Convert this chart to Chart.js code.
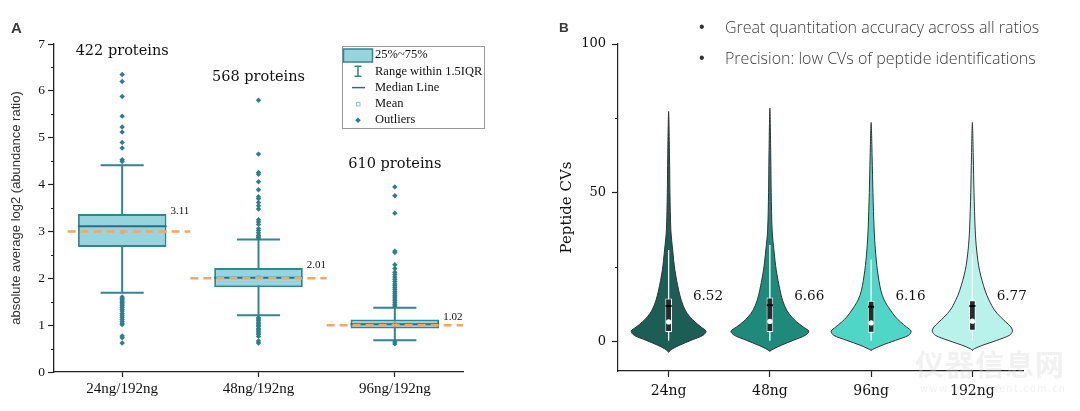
<!DOCTYPE html>
<html><head><meta charset="utf-8">
<script src="https://cdn.jsdelivr.net/npm/chart.js@4.4.1/dist/chart.umd.min.js"></script>
<style>
html,body{margin:0;padding:0;background:#fff;width:1080px;height:411px;overflow:hidden;position:relative;}
.wrap{position:absolute;top:0;width:540px;height:411px;}
#wa{left:0}#wb{left:540px}
.lab{position:absolute;font-family:'Liberation Sans',Arial,sans-serif;font-weight:bold;color:#3a3a3a;}
.bul{position:absolute;font-family:'Open Sans','Liberation Sans',sans-serif;font-size:16px;font-weight:300;color:#3c3c3c;white-space:nowrap;line-height:20px;}
.dot{position:absolute;font-family:'Liberation Sans',sans-serif;font-size:16px;color:#333;line-height:20px;}
.wm{position:absolute;font-family:'Noto Sans CJK SC',sans-serif;font-weight:bold;color:rgba(215,215,215,0.35);white-space:nowrap;}
</style></head><body>
<div class="wrap" id="wa"><canvas id="ca" width="540" height="411"></canvas></div>
<div class="wrap" id="wb"><canvas id="cb" width="540" height="411"></canvas></div>
<div class="lab" style="left:11px;top:20px;font-size:15px;line-height:15px">A</div>
<div class="lab" style="left:559px;top:21px;font-size:13.5px;line-height:13.5px">B</div>
<div class="dot" style="left:699px;top:17px">•</div>
<div class="bul" style="left:725px;top:17px">Great quantitation accuracy across all ratios</div>
<div class="dot" style="left:699px;top:48px">•</div>
<div class="bul" style="left:725px;top:48px">Precision: low CVs of peptide identifications</div>
<div class="wm" style="left:915px;top:342px;font-size:29px;letter-spacing:1px">仪器信息网</div>
<div class="wm" style="left:920px;top:380px;font-size:10px;letter-spacing:1.5px;font-weight:normal">www.instrument.com.cn</div>
<script>
// ---------- Panel A data ----------
const catsA = ['24ng/192ng', '48ng/192ng', '96ng/192ng'];
const countsA = [422, 568, 610];
const q1A = [2.67, 1.81, 0.93];
const q3A = [3.37, 2.22, 1.12];
const medA = [3.11, 2.01, 1.02];
const meanA = [2.99, 2.03, 1.03];
const whiskLoA = [1.69, 1.21, 0.68];
const whiskHiA = [4.41, 2.83, 1.37];
const refA = [3, 2, 1];
const outliers24 = [6.35, 6.20, 5.88, 5.46, 5.23, 5.12, 4.90, 4.78, 4.53, 4.49,
  1.60, 1.57, 1.54, 1.51, 1.48, 1.45, 1.42, 1.38, 1.34, 1.30, 1.25, 1.21, 1.17, 1.12, 1.08, 1.04, 1.01, 0.77, 0.73, 0.62];
const outliers48 = [5.80, 4.65, 4.26, 4.22, 4.06, 3.89, 3.74, 3.70, 3.62, 3.55, 3.48, 3.25, 3.20, 3.15, 3.06, 3.02, 2.97, 2.92, 2.88, 2.86,
  1.16, 1.13, 1.10, 1.06, 1.03, 1.00, 0.97, 0.93, 0.90, 0.87, 0.83, 0.80, 0.76, 0.66, 0.62];
const outliers96 = [3.95, 3.76, 3.39, 2.58, 2.55, 2.29, 2.21, 2.13, 2.08, 2.03, 1.98, 1.93, 1.88, 1.84, 1.80, 1.76, 1.72, 1.68, 1.64, 1.60, 1.56, 1.52, 1.48, 1.44, 1.41,
  0.64, 0.60];
const outliersA = [outliers24, outliers48, outliers96];
const yTicksA = [0, 1, 2, 3, 4, 5, 6, 7];
const yMinorA = [0.5, 1.5, 2.5, 3.5, 4.5, 5.5, 6.5];
const legendA = ['25%~75%', 'Range within 1.5IQR', 'Median Line', 'Mean', 'Outliers'];
const yTitleA = 'absolute average log2 (abundance ratio)';

// ---------- Panel B data ----------
const catsB = ['24ng', '48ng', '96ng', '192ng'];
const medB = [6.52, 6.66, 6.16, 6.77];
const meanB = [11.9, 12.1, 11.6, 11.9];
const boxLoB = [3.1, 3.1, 2.9, 3.5];
const boxHiB = [14.4, 14.7, 13.6, 13.8];
const whiskLoB = [0.2, 0.2, 0.2, 0.2];
const whiskHiB = [30.7, 32.4, 27.5, 29.5];
const violinMinB = [-3.6, -3.3, -3.0, -3.0];
const violinMaxB = [77.3, 78.4, 73.6, 73.6];
const cvLevels = [-2.5, -1.3, 0.3, 2.0, 3.4, 4.8, 6.5, 8.2, 10.5, 13.8, 17.2, 23.9, 30.7, 37.4, 50, 62];
const dens24  = [0.04, 0.11, 0.22, 0.34, 0.37, 0.32, 0.26, 0.21, 0.163, 0.125, 0.099, 0.062, 0.04, 0.022, 0.013, 0.009];
const dens48  = [0.04, 0.115, 0.23, 0.35, 0.385, 0.33, 0.265, 0.215, 0.165, 0.125, 0.1, 0.063, 0.04, 0.022, 0.013, 0.009];
const dens96  = [0.03, 0.11, 0.24, 0.37, 0.395, 0.35, 0.29, 0.24, 0.19, 0.13, 0.095, 0.062, 0.042, 0.03, 0.018, 0.01];
const dens192 = [0.02, 0.104, 0.24, 0.366, 0.396, 0.38, 0.33, 0.277, 0.218, 0.165, 0.124, 0.07, 0.042, 0.028, 0.016, 0.009];
const densB = [dens24, dens48, dens96, dens192];
const yTicksB = [0, 50, 100];
const yMinorB = [25, 75];
const yTitleB = 'Peptide CVs';

// ---------- styles ----------
const BOX_FILL = '#98d4de', BOX_LINE = '#35848f', OUT_COL = '#2b7f8a', MED_COL = '#2c6f79', REF_COL = '#f2a766';
const VIOLIN_COLS = ['#1c5e55', '#1d8a7c', '#50d6c7', '#b9f1eb'];
const BOX_HALF = 0.325, CAP_HALF = 0.158;

Chart.defaults.font.family = "'Liberation Serif', serif";
Chart.defaults.color = '#111';

const gap = x => ({x: x, y: null});
const lineDs = (data, color, width, order, extra) => Object.assign({
  type: 'line', data, borderColor: color, borderWidth: width, pointRadius: 0,
  fill: false, tension: 0, borderCapStyle: 'butt', spanGaps: false, order
}, extra || {});

// ---------- Panel A ----------
const annotA = {
  id: 'annotA',
  afterDatasetsDraw(chart) {
    const {ctx, chartArea} = chart; const x = chart.scales.x, y = chart.scales.y;
    ctx.save();
    ctx.fillStyle = '#111';
    ctx.font = "14.5px 'DejaVu Serif'"; ctx.textAlign = 'center'; ctx.textBaseline = 'middle';
    catsA.forEach((c, i) => {
      const top = Math.max(...outliersA[i]);
      ctx.fillText(countsA[i] + ' proteins', x.getPixelForValue(i), y.getPixelForValue(top) - 23);
    });
    ctx.font = "11px 'Liberation Serif'"; ctx.textAlign = 'left'; ctx.textBaseline = 'bottom';
    catsA.forEach((c, i) => {
      ctx.fillText(medA[i].toFixed(2), x.getPixelForValue(i + BOX_HALF) + 4, y.getPixelForValue(q3A[i]) + 3);
    });
    // legend box
    const L = chartArea.left + 288, T = chartArea.top + 2;
    ctx.strokeStyle = '#9a9a9a'; ctx.lineWidth = 1;
    ctx.strokeRect(L + 0.5, T + 0.5, 142, 82);
    const rowY = k => T + 9 + k * 16.3;
    const cx = L + 16;
    ctx.fillStyle = BOX_FILL; ctx.fillRect(L + 1.5, T + 3, 29, 13);
    ctx.strokeStyle = BOX_LINE; ctx.lineWidth = 1.5; ctx.strokeRect(L + 1.5, T + 3, 29, 13);
    ctx.lineWidth = 1.5; ctx.beginPath();
    ctx.moveTo(cx, rowY(1) - 5); ctx.lineTo(cx, rowY(1) + 5);
    ctx.moveTo(cx - 3.5, rowY(1) - 5); ctx.lineTo(cx + 3.5, rowY(1) - 5);
    ctx.moveTo(cx - 3.5, rowY(1) + 5); ctx.lineTo(cx + 3.5, rowY(1) + 5);
    ctx.stroke();
    ctx.strokeStyle = MED_COL; ctx.beginPath(); ctx.moveTo(cx - 6, rowY(2)); ctx.lineTo(cx + 7, rowY(2)); ctx.stroke();
    ctx.strokeStyle = '#9ab9c0'; ctx.lineWidth = 1; ctx.strokeRect(cx - 1.5, rowY(3) - 1.5, 3.5, 3.5);
    ctx.fillStyle = OUT_COL; ctx.beginPath();
    ctx.moveTo(cx, rowY(4) - 2.8); ctx.lineTo(cx + 2.8, rowY(4)); ctx.lineTo(cx, rowY(4) + 2.8); ctx.lineTo(cx - 2.8, rowY(4)); ctx.closePath(); ctx.fill();
    ctx.fillStyle = '#111'; ctx.font = "12.5px 'Liberation Serif'"; ctx.textAlign = 'left'; ctx.textBaseline = 'middle';
    legendA.forEach((t, k) => ctx.fillText(t, L + 33, rowY(k)));
    ctx.restore();
  },
  afterDraw(chart) {
    const {ctx} = chart; const s = chart.scales.y;
    ctx.save(); ctx.strokeStyle = '#222'; ctx.lineWidth = 1;
    yMinorA.forEach(v => { const py = Math.round(s.getPixelForValue(v)) + 0.5; ctx.beginPath(); ctx.moveTo(s.right - 3, py); ctx.lineTo(s.right, py); ctx.stroke(); });
    ctx.restore();
  }
};

const dsA = [
  lineDs(catsA.flatMap((c, i) => [{x: i, y: whiskLoA[i]}, {x: i, y: whiskHiA[i]}, gap(i)]), BOX_LINE, 2, 10),
  lineDs(catsA.flatMap((c, i) => [{x: i - CAP_HALF, y: whiskHiA[i]}, {x: i + CAP_HALF, y: whiskHiA[i]}, gap(i),
                                 {x: i - CAP_HALF, y: whiskLoA[i]}, {x: i + CAP_HALF, y: whiskLoA[i]}, gap(i)]), BOX_LINE, 2, 10),
  {type: 'bar', data: catsA.map((c, i) => ({x: i, y: [q1A[i], q3A[i]]})), backgroundColor: BOX_FILL, borderColor: BOX_LINE,
   borderWidth: 2, borderSkipped: false, categoryPercentage: 1, barPercentage: 0.65, order: 8},
  lineDs(catsA.flatMap((c, i) => [{x: i - BOX_HALF, y: medA[i]}, {x: i + BOX_HALF, y: medA[i]}, gap(i)]), MED_COL, 2, 6),
  {type: 'scatter', data: catsA.map((c, i) => ({x: i, y: meanA[i]})), pointStyle: 'rect', pointRadius: 2,
   backgroundColor: 'rgba(0,0,0,0)', borderColor: '#8fb5bd', borderWidth: 1, order: 5},
  {type: 'scatter', data: catsA.flatMap((c, i) => outliersA[i].map(v => ({x: i, y: v}))), pointStyle: 'rectRot', pointRadius: 2.7,
   backgroundColor: OUT_COL, borderWidth: 0, order: 4},
  lineDs(catsA.flatMap((c, i) => [{x: i === 0 ? -0.4 : i - 0.5, y: refA[i]}, {x: i + 0.5, y: refA[i]}, gap(i)]), REF_COL, 2.5, 2,
   {borderDash: [8, 5]})
];

new Chart(document.getElementById('ca'), {
  type: 'scatter',
  data: {datasets: dsA},
  plugins: [annotA],
  options: {
    responsive: false, animation: false, events: [],
    layout: {padding: {left: 4, top: 44, right: 77, bottom: 0}},
    plugins: {legend: {display: false}, tooltip: {enabled: false}},
    scales: {
      x: {type: 'linear', min: -0.5, max: 2.5, offset: false,
        afterBuildTicks: s => { s.ticks = catsA.map((c, i) => ({value: i})); },
        afterFit: s => { s.height = 39; },
        ticks: {callback: v => catsA[v] || '', font: {family: 'Liberation Serif', size: 15}, color: '#111', padding: 3, autoSkip: false, maxRotation: 0},
        grid: {offset: false, drawOnChartArea: false, tickLength: 5, tickColor: '#222', tickWidth: 1.2},
        border: {color: '#222', width: 1.3}},
      y: {type: 'linear', min: 0, max: 7,
        afterBuildTicks: s => { s.ticks = yTicksA.map(v => ({value: v})); },
        afterFit: s => { s.width = 50; },
        ticks: {font: {family: 'Liberation Serif', size: 13.5}, color: '#111', padding: 3},
        grid: {drawOnChartArea: false, tickLength: 6, tickColor: '#222', tickWidth: 1.2},
        border: {color: '#222', width: 1.3},
        title: {display: true, text: yTitleA, font: {family: 'Liberation Sans', size: 13}, color: '#333', padding: {top: 5, bottom: 0}}}
    }
  }
});

// ---------- Panel B ----------
function violinPoints(i) {
  const w = densB[i];
  const pts = [{x: i, y: violinMinB[i]}];
  cvLevels.forEach((v, k) => pts.push({x: i + w[k], y: v}));
  pts.push({x: i, y: violinMaxB[i]});
  for (let k = cvLevels.length - 1; k >= 0; k--) pts.push({x: i - w[k], y: cvLevels[k]});
  pts.push({x: i, y: violinMinB[i]});
  return pts;
}

const annotB = {
  id: 'annotB',
  afterDatasetsDraw(chart) {
    const {ctx} = chart; const x = chart.scales.x, y = chart.scales.y;
    ctx.save(); ctx.fillStyle = '#111';
    ctx.font = "13.5px 'DejaVu Serif'"; ctx.textAlign = 'left'; ctx.textBaseline = 'middle';
    catsB.forEach((c, i) => ctx.fillText(medB[i].toFixed(2), x.getPixelForValue(i + 0.24), y.getPixelForValue(15)));
    ctx.restore();
  },
  afterDraw(chart) {
    const {ctx} = chart; const s = chart.scales.y;
    ctx.save(); ctx.strokeStyle = '#222'; ctx.lineWidth = 1;
    yMinorB.forEach(v => { const py = Math.round(s.getPixelForValue(v)) + 0.5; ctx.beginPath(); ctx.moveTo(s.right - 3, py); ctx.lineTo(s.right, py); ctx.stroke(); });
    ctx.restore();
  }
};

const dsB = catsB.map((c, i) => lineDs(violinPoints(i), '#333', 1, 10,
  {fill: 'shape', backgroundColor: VIOLIN_COLS[i], tension: 0.3, borderCapStyle: 'round'}));
dsB.push(lineDs(catsB.flatMap((c, i) => [{x: i, y: whiskLoB[i]}, {x: i, y: whiskHiB[i]}, gap(i)]), '#ffffff', 1.3, 6));
dsB.push({type: 'bar', data: catsB.map((c, i) => ({x: i, y: [boxLoB[i], boxHiB[i]]})), backgroundColor: '#2a2a2a', borderColor: '#ffffff',
  borderWidth: 1, borderSkipped: false, categoryPercentage: 1, barPercentage: 0.066, order: 4});
dsB.push(lineDs(catsB.flatMap((c, i) => [{x: i - 0.03, y: meanB[i]}, {x: i + 0.03, y: meanB[i]}, gap(i)]), '#000', 2, 3));
dsB.push({type: 'scatter', data: catsB.map((c, i) => ({x: i, y: medB[i]})), pointStyle: 'circle', pointRadius: 2.6,
  backgroundColor: '#ffffff', borderWidth: 0, order: 1});

new Chart(document.getElementById('cb'), {
  type: 'scatter',
  data: {datasets: dsB},
  plugins: [annotB],
  options: {
    responsive: false, animation: false, events: [],
    layout: {padding: {left: 14, top: 44, right: 57, bottom: 0}},
    plugins: {legend: {display: false}, tooltip: {enabled: false}},
    scales: {
      x: {type: 'linear', min: -0.5, max: 3.5, offset: false,
        afterBuildTicks: s => { s.ticks = catsB.map((c, i) => ({value: i})); },
        afterFit: s => { s.height = 40; },
        ticks: {callback: v => catsB[v] || '', font: {family: 'DejaVu Serif', size: 14}, color: '#111', padding: 6, autoSkip: false, maxRotation: 0},
        grid: {offset: false, drawOnChartArea: false, tickLength: 6, tickColor: '#222', tickWidth: 1.2},
        border: {color: '#222', width: 1.2}},
      y: {type: 'linear', min: -10, max: 100,
        afterBuildTicks: s => { s.ticks = yTicksB.map(v => ({value: v})); },
        afterFit: s => { s.width = 64; },
        ticks: {font: {family: 'DejaVu Serif', size: 13}, color: '#111', padding: 6},
        grid: {drawOnChartArea: false, tickLength: 6, tickColor: '#222', tickWidth: 1.2},
        border: {color: '#222', width: 1.2},
        title: {display: true, text: yTitleB, font: {family: 'DejaVu Serif', size: 15}, color: '#111', padding: {top: 4, bottom: 0}}}
    }
  }
});
</script>
</body></html>
